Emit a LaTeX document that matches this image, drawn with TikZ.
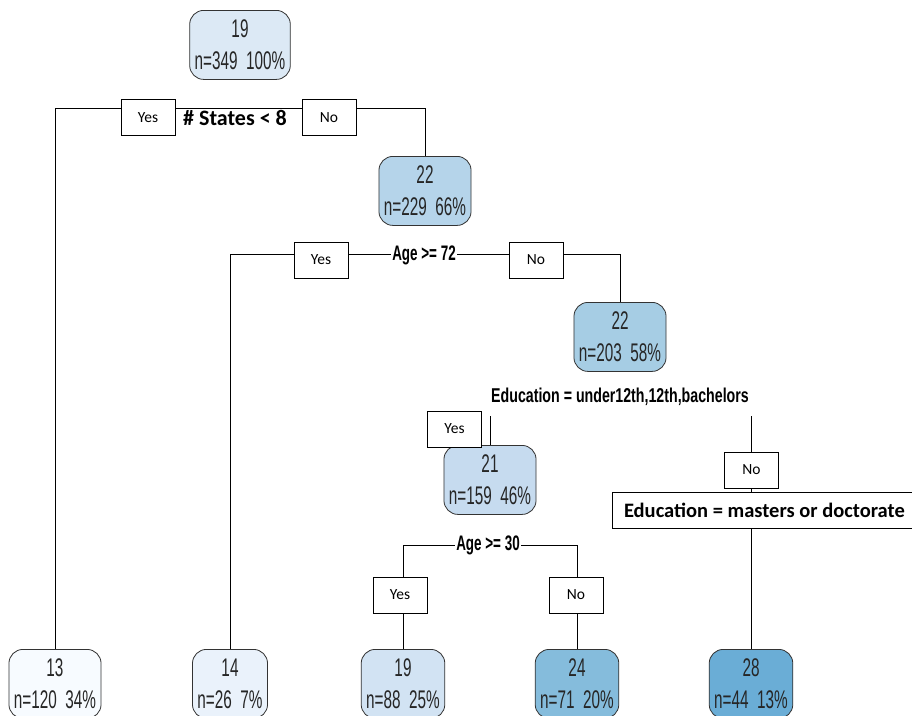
\documentclass[tikz,border=0pt]{standalone}
\usepackage{fontspec}
\setmainfont{Liberation Sans}
\newfontfamily\narrowfont[FakeStretch=0.6]{Liberation Sans}
\newfontfamily\narrowbfont[FakeStretch=0.64]{Liberation Sans Bold}
\newfontfamily\widebfont[FakeStretch=0.71]{Liberation Sans Bold}
\newfontfamily\calfont{Carlito}
\definecolor{c13}{HTML}{F7FBFF}
\definecolor{c14}{HTML}{EAF2FB}
\definecolor{c19r}{HTML}{DCE9F5}
\definecolor{c19l}{HTML}{D2E3F3}
\definecolor{c21}{HTML}{C6DBEF}
\definecolor{c22a}{HTML}{B5D4EA}
\definecolor{c22b}{HTML}{A6CDE4}
\definecolor{c24}{HTML}{85BCDC}
\definecolor{c28}{HTML}{6AADD6}
\definecolor{edge}{HTML}{333333}
\begin{document}
\begin{tikzpicture}[x=1pt,y=-1pt,
  treenode/.style={draw=edge, rounded corners=14pt, line width=0.8pt, minimum height=69pt,
    inner xsep=5pt, inner ysep=2pt, align=center, anchor=north, text=black!85,
    font=\narrowfont\fontsize{25.5}{32.5}\selectfont},
  yesno/.style={draw=black, fill=white, line width=0.8pt, minimum width=54pt, minimum height=36pt,
    inner sep=0pt, font=\calfont\fontsize{15.5}{15.5}\selectfont},
  splitlbl/.style={fill=white, inner xsep=1pt, inner ysep=1pt, font=\narrowbfont\fontsize{21}{21}\selectfont},
  conn/.style={draw=black, line width=0.9pt}]
\clip (0,0) rectangle (912,715);
\fill[white] (0,0) rectangle (912,715);
% nodes
\node[treenode, fill=c19r] (root) at (240,10) {19\\n=349\ \ 100\%};
\node[treenode, fill=c22a] (n229) at (425,156) {22\\n=229\ \ 66\%};
\node[treenode, fill=c22b] (n203) at (620,302) {22\\n=203\ \ 58\%};
\node[treenode, fill=c21] (n159) at (490,445) {21\\n=159\ \ 46\%};
\node[treenode, fill=c13] (l13) at (55,649) {13\\n=120\ \ 34\%};
\node[treenode, fill=c14] (l14) at (230,649) {14\\n=26\ \ 7\%};
\node[treenode, fill=c19l] (l19) at (403,649) {19\\n=88\ \ 25\%};
\node[treenode, fill=c24] (l24) at (577,649) {24\\n=71\ \ 20\%};
\node[treenode, fill=c28] (l28) at (751,649) {28\\n=44\ \ 13\%};
% split coordinates
\coordinate (s1) at (0,108);
\coordinate (s2) at (0,254);
\coordinate (s3) at (0,416);
\coordinate (s4) at (0,545);
% connectors
\draw[conn] (l13.north) -- (l13.north |- s1) -- (n229.north |- s1) -- (n229.north);
\draw[conn] (l14.north) -- (l14.north |- s2) -- (n203.north |- s2) -- (n203.north);
\draw[conn] (n159.north |- s3) -- (n159.north);
\draw[conn] (l28.north |- s3) -- (l28.north);
\draw[conn] (l19.north) -- (l19.north |- s4) -- (l24.north |- s4) -- (l24.north);
% split labels
\node[splitlbl, font=\calfont\bfseries\fontsize{22}{22}\selectfont] (q1) at (235,118) {\# States < 8};
\node[yesno] (y1) at (148,117.5) {Yes};
\node[yesno] (no1) at (329,117.5) {No};
\node[splitlbl] (q2) at (424,255) {Age >= 72};
\node[yesno] (y2) at (321,260) {Yes};
\node[yesno] (no2) at (536,260) {No};
\node[splitlbl, fill=none, font=\widebfont\fontsize{20}{20}\selectfont] (q3) at (620,397) {Education = under12th,12th,bachelors};
\node[yesno] (y3) at (454.5,429) {Yes};
\node[yesno] (no3) at (751.5,470) {No};
\node[draw=black, fill=white, line width=0.8pt, anchor=west, minimum width=304pt, minimum height=36pt,
  inner sep=0pt, font=\calfont\bfseries\fontsize{20.5}{21}\selectfont] (q3b) at (612,510) {Education = masters or doctorate};
\node[splitlbl] (q4) at (488,545) {Age >= 30};
\node[yesno] (y4) at (400,595) {Yes};
\node[yesno] (no4) at (576,595) {No};
\end{tikzpicture}
\end{document}
